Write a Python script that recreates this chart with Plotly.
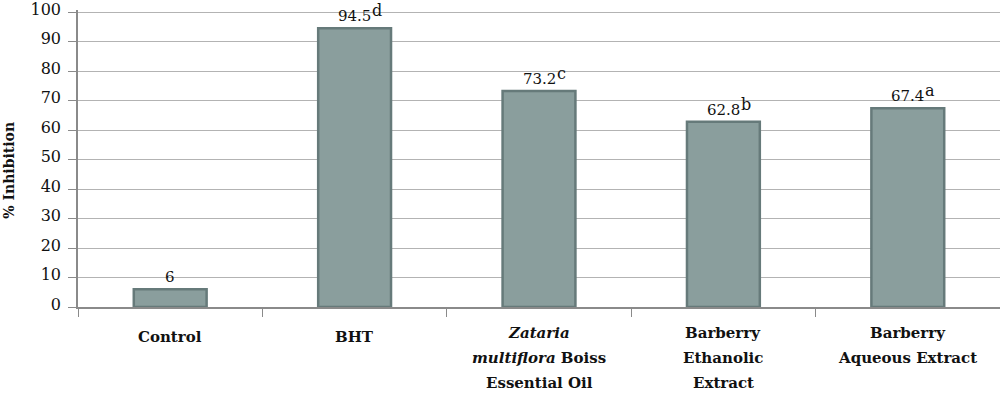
import plotly.graph_objects as go

categories = ["Control", "BHT", "Zataria multiflora Boiss Essential Oil",
              "Barberry Ethanolic Extract", "Barberry Aqueous Extract"]
label_lines = [
    ["Control"],
    ["BHT"],
    ["<i>Zataria</i>", "<i>multiflora</i> Boiss", "Essential Oil"],
    ["Barberry", "Ethanolic", "Extract"],
    ["Barberry", "Aqueous Extract"],
]
values = [6, 94.5, 73.2, 62.8, 67.4]
letters = ["", "d", "c", "b", "a"]
y_ticks = [0, 10, 20, 30, 40, 50, 60, 70, 80, 90, 100]

W, H, ML, MT, MB = 1000, 397, 78, 4, 90
PLOT_H = H - MT - MB
FS = 15

def text_width(s, size):
    w = {".": 0.318}
    return sum(w.get(ch, 0.636) for ch in s) * size

fig = go.Figure()
fig.add_trace(go.Bar(
    x=categories, y=values,
    marker=dict(color="#8a9e9d", line=dict(color="#667a7a", width=2.5)),
    width=0.395,
))

annotations = []
for cat, v, l in zip(categories, values, letters):
    s = f"{v:g}"
    annotations.append(dict(
        x=cat, y=v, xref="x", yref="y", text=s, showarrow=False,
        xanchor="center", yanchor="bottom", yshift=1,
        font=dict(family="DejaVu Serif", size=FS, color="#111"),
    ))
    if l:
        annotations.append(dict(
            x=cat, y=v, xref="x", yref="y", text=l, showarrow=False,
            xanchor="left", yanchor="bottom", yshift=6,
            xshift=text_width(s, FS) / 2 - 1,
            font=dict(family="DejaVu Serif", size=16, color="#111"),
        ))

for cat, lines in zip(categories, label_lines):
    n = len(lines)
    ys = [338] if n == 1 else [334 + 25.5 * i for i in range(n)]
    for line, ypx in zip(lines, ys):
        annotations.append(dict(
            x=cat, xref="x", y=(H - ypx - MB) / PLOT_H, yref="paper",
            text=f"<b>{line}</b>", showarrow=False, yanchor="middle", xanchor="center",
            font=dict(family="DejaVu Serif", size=15, color="#111"),
        ))
annotations.append(dict(
    x=(9 - ML) / (W - ML), xref="paper", y=(H - 168 - MB) / PLOT_H, yref="paper",
    xanchor="center", yanchor="middle",
    text="<b>% Inhibition</b>", textangle=-90, showarrow=False,
    font=dict(family="DejaVu Serif", size=14, color="#111"),
))

fig.update_layout(
    width=W, height=H,
    margin=dict(l=ML, r=0, t=MT, b=MB),
    plot_bgcolor="white", paper_bgcolor="white",
    showlegend=False,
    font=dict(family="DejaVu Serif", color="#111"),
    annotations=annotations,
    yaxis=dict(range=[0, 100.7], tickvals=y_ticks, showgrid=True, gridcolor="#b3b3b3",
               gridwidth=1, showline=True, linecolor="#8a8a8a", linewidth=1.5,
               ticks="outside", ticklen=8, tickcolor="#8a8a8a",
               tickfont=dict(size=16, family="DejaVu Serif"), ticklabelstandoff=4,
               ticklabeloverflow="allow", ticklabelshift=-3,
               zeroline=False),
    xaxis=dict(tickvals=categories, ticktext=[""] * len(categories), showline=True,
               linecolor="#8a8a8a", linewidth=1.5, ticks="outside", tickson="boundaries",
               ticklen=8, tickcolor="#8a8a8a"),
)
fig.write_html("out.html")
